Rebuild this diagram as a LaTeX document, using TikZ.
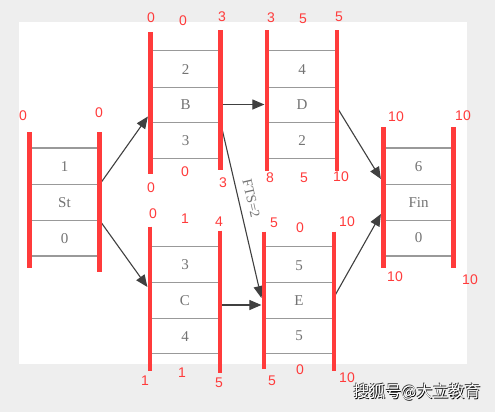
\documentclass[tikz,border=0pt]{standalone}
\usepackage{fontspec}
\setmainfont{Liberation Serif}
\setsansfont{Liberation Sans}
\newfontfamily\cjk{Noto Sans CJK SC}
\usetikzlibrary{arrows.meta,shapes.multipart}
\definecolor{rod}{HTML}{FF3B3B}
\definecolor{bakgrunn}{HTML}{EEEEEE}
% white text with a dark rim
\newcommand{\skygge}[1]{%
	\rlap{\kern0.8pt\raisebox{-0.8pt}{\textcolor{black}{#1}}}%
	\rlap{\kern-0.6pt\raisebox{0.6pt}{\textcolor{black!80}{#1}}}%
	\textcolor{white}{#1}}
\tikzset{
	%Define standard arrow tip
	>={Triangle[length=12pt,width=10pt]},
	%Define style for activity boxes
	aktbox/.style={
		rectangle split,
		rectangle split parts=3,
		draw=black!40, line width=1.2pt,
		minimum width=69pt,
		text height=11pt, text depth=0pt,
		inner ysep=12.2pt,
		text=black!55,
		font=\fontsize{15}{17}\selectfont},
	% Define style for the red bars
	rodbar/.style={draw=rod, line width=4.5pt},
	% Define style for the times
	tid/.style={text=rod, inner sep=0pt,
		font=\sffamily\fontsize{14}{16}\selectfont},
	% Define arrow style
	link/.style={
		->,
		draw=black!75,
		line width=1.1pt},
	merke/.style={font=\cjk\fontsize{16}{18}\selectfont}
}
\begin{document}
\begin{tikzpicture}[x=1pt, y=-1pt]
	\useasboundingbox (0,0) rectangle (495,412);
	\fill[bakgrunn] (0,0) rectangle (495,412);
	\fill[white] (19,22) rectangle (467,364);

	\node[aktbox] (st) at (64.5,202) {1 \nodepart{two} St \nodepart{three} 0};
	\node[aktbox] (b) at (185.5,104.5) {2 \nodepart{two} B \nodepart{three} 3};
	\node[aktbox] (d) at (302,104.5) {4 \nodepart{two} D \nodepart{three} 2};
	\node[aktbox] (c) at (185,300) {3 \nodepart{two} C \nodepart{three} 4};
	\node[aktbox] (e) at (299,300) {5 \nodepart{two} E \nodepart{three} 5};
	\node[aktbox] (fin) at (418.5,202) {6 \nodepart{two} Fin \nodepart{three} 0};

	\path[every node/.style={text=black!55, font=\fontsize{14}{16}\selectfont}]
	(st.one split east) edge [link] ([xshift=-2.5pt,yshift=-12pt]b.west)
	(st.two split east) edge [link] ([xshift=-2.5pt,yshift=13pt]c.west)
	(b.east) edge [link] ([xshift=-2.5pt]d.west)
	(b.two split east) edge [link] node[sloped, above=4pt, pos=0.45] {FTS=2} ([xshift=-2.5pt,yshift=2pt]e.west)
	([yshift=-5pt]c.east) edge [link] ([xshift=-2.5pt,yshift=-5pt]e.west)
	([yshift=-3pt]d.east) edge [link] ([xshift=-2.5pt,yshift=23pt]fin.west)
	([yshift=3pt]e.east) edge [link] ([xshift=-2.5pt,yshift=-12pt]fin.west)
	;

	% red bars
	\draw[rodbar] ([yshift=15pt]st.north west) -- ([yshift=-11pt]st.south west);
	\draw[rodbar] ([yshift=15pt]st.north east) -- ([yshift=-15pt]st.south east);
	\draw[rodbar] ([yshift=18pt]b.north west) -- ([yshift=-15pt]b.south west);
	\draw[rodbar] ([yshift=20pt]b.north east) -- ([yshift=-11pt]b.south east);
	\draw[rodbar] ([yshift=20pt]d.north west) -- ([yshift=-12pt]d.south west);
	\draw[rodbar] ([yshift=20pt]d.north east) -- ([yshift=-12pt]d.south east);
	\draw[rodbar] ([yshift=19pt]c.north west) -- ([yshift=-17pt]c.south west);
	\draw[rodbar] ([yshift=15pt]c.north east) -- ([yshift=-19pt]c.south east);
	\draw[rodbar] ([yshift=14pt]e.north west) -- ([yshift=-15pt]e.south west);
	\draw[rodbar] ([yshift=14pt]e.north east) -- ([yshift=-17pt]e.south east);
	\draw[rodbar] ([yshift=20pt]fin.north west) -- ([yshift=-11pt]fin.south west);
	\draw[rodbar] ([yshift=20pt]fin.north east) -- ([yshift=-11pt]fin.south east);

	% times
	\node[tid] (st-tl) at (23,116) {0};
	\node[tid] (st-tr) at (99,113) {0};

	\node[tid] (b-tl) at (151,18) {0};
	\node[tid] (b-tm) at (183,21) {0};
	\node[tid] (b-tr) at (222,17) {3};
	\node[tid] (b-bl) at (151,188) {0};
	\node[tid] (b-bm) at (185,172) {0};
	\node[tid] (b-br) at (223,183) {3};

	\node[tid] (d-tl) at (271,18) {3};
	\node[tid] (d-tm) at (303,19) {5};
	\node[tid] (d-tr) at (339,17) {5};
	\node[tid] (d-bl) at (270,178) {8};
	\node[tid] (d-bm) at (304,178) {5};
	\node[tid] (d-br) at (341,177) {10};

	\node[tid] (c-tl) at (153,214) {0};
	\node[tid] (c-tm) at (185,219) {1};
	\node[tid] (c-tr) at (219,222) {4};
	\node[tid] (c-bl) at (145,381) {1};
	\node[tid] (c-bm) at (182,373) {1};
	\node[tid] (c-br) at (219,383) {5};

	\node[tid] (e-tl) at (274,223) {5};
	\node[tid] (e-tm) at (300,228) {0};
	\node[tid] (e-tr) at (347,222) {10};
	\node[tid] (e-bl) at (272,381) {5};
	\node[tid] (e-bm) at (300,370) {0};
	\node[tid] (e-br) at (347,378) {10};

	\node[tid] (fin-tl) at (396,117) {10};
	\node[tid] (fin-tr) at (463,116) {10};
	\node[tid] (fin-bl) at (395,277) {10};
	\node[tid] (fin-br) at (470,280) {10};

	\node[merke] (vannmerke) at (417,392) {\skygge{搜狐号@大立教育}};
\end{tikzpicture}
\end{document}
